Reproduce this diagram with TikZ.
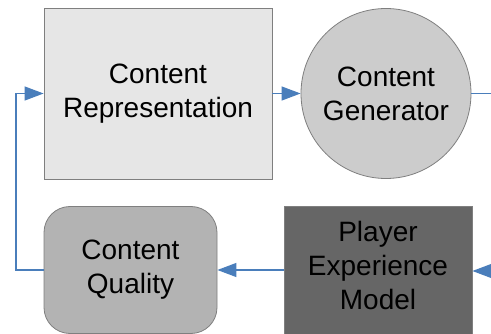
\documentclass[tikz,border=0pt]{standalone}
\usepackage{fontspec}
\setmainfont{Liberation Sans}
\usetikzlibrary{arrows.meta}
\definecolor{cr}{HTML}{E6E6E6}
\definecolor{cg}{HTML}{CCCCCC}
\definecolor{cq}{HTML}{B3B3B3}
\definecolor{pem}{HTML}{666666}
\definecolor{edge}{HTML}{7F7F7F}
\definecolor{conn}{HTML}{4A7EBB}
\begin{document}
\begin{tikzpicture}[x=1pt,y=-1pt,
  box/.style={draw=edge, line width=0.8pt, inner sep=0pt, align=center,
    font=\fontsize{28}{34}\selectfont},
  link/.style={draw=conn, line width=1.2pt},
  arr/.style={link, -{Triangle[length=19pt,width=14pt,fill=conn]}}]
\useasboundingbox (0,0) rectangle (491,334);
\clip (0,0) rectangle (491,334);
\node[box, fill=cr, minimum width=228pt, minimum height=171pt] (rep) at (158,93.5) {Content\\Representation};
\node[box, fill=cg, circle, minimum size=170pt] (gen) at (386,93.5) {Content\\Generator};
\node[box, fill=cq, rounded corners=26pt, minimum width=173pt, minimum height=127pt] (qual) at (130.5,270) {Content\\Quality};
\node[box, fill=pem, minimum width=188pt, minimum height=130pt] (pem) at (378,271) {};
\node[box, draw=none, anchor=center] (pemt) at (378,265) {Player\\Experience\\Model};
\coordinate (gout) at (495,93.5);
\coordinate (pin) at (495,271);
\coordinate (lc) at (16,270);
\draw[arr] (rep.east) -- (gen.west);
\draw[link] (gen.east) -- (gout);
\draw[arr] (pin) -- (pem.east);
\draw[arr] (pem.west |- qual.east) -- (qual.east);
\draw[arr] (qual.west) -- (lc) |- (rep.west);
\end{tikzpicture}
\end{document}
